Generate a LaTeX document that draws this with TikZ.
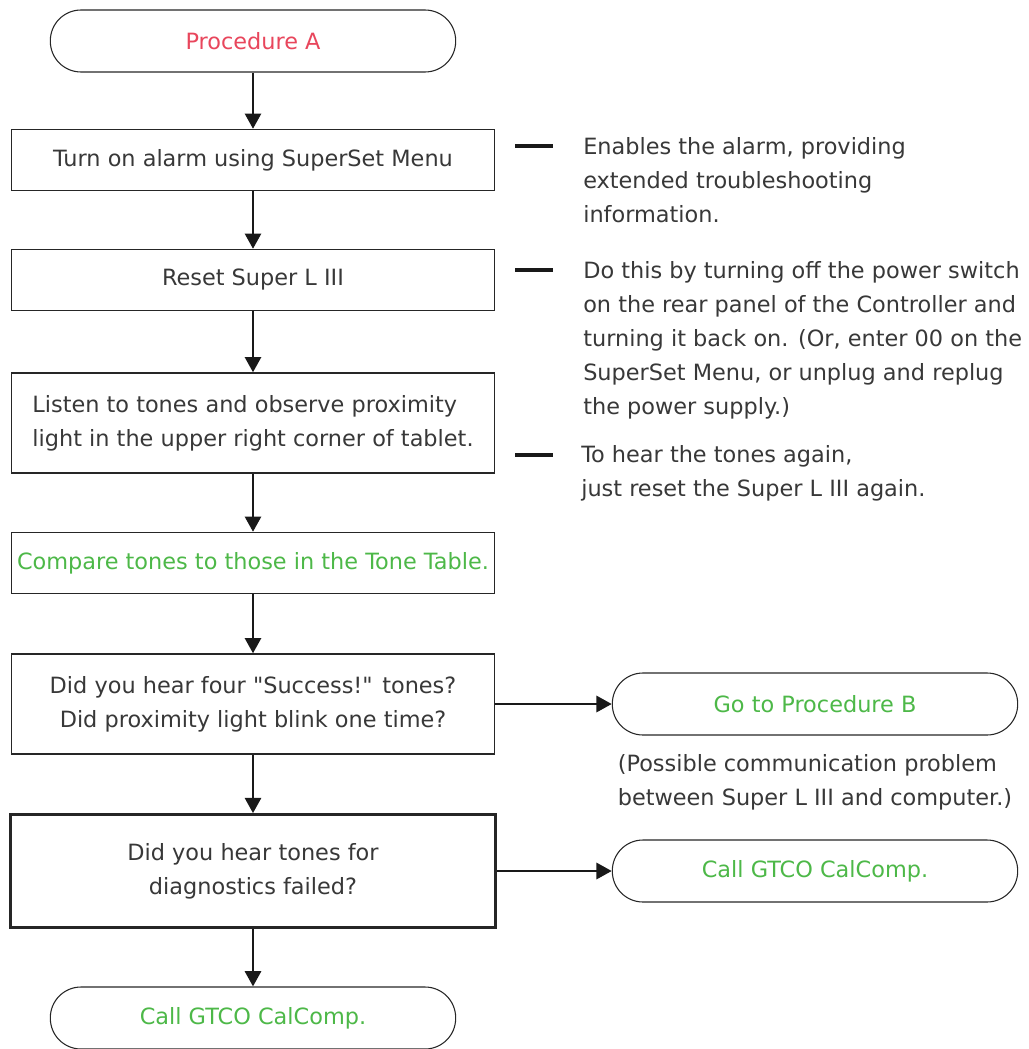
\documentclass[tikz,border=0pt]{standalone}
\usepackage{fontspec}
\setmainfont{DejaVu Sans}
\usetikzlibrary{positioning,arrows.meta}
\definecolor{procred}{HTML}{E8465C}
\definecolor{procgreen}{HTML}{4DB848}
\definecolor{inkgray}{HTML}{383838}
\begin{document}
\begin{tikzpicture}[x=0.75pt,y=-0.75pt,
    font=\fontsize{16.8}{25.5}\selectfont, text=inkgray,
    stepbox/.style={draw=black!85, line width=1pt, minimum width=362pt,
        minimum height=45.75pt, inner sep=2pt, align=center},
    termbox/.style={draw=black!85, line width=0.8pt, minimum width=304pt,
        minimum height=46.5pt, rounded corners=23pt, align=center},
    flow/.style={-{Triangle[length=11.5pt,width=12pt]}, line width=2.2pt, black!90},
    sidedash/.style={line width=3pt, black!90},
    note/.style={anchor=north west, align=left, inner sep=0pt}]
            \useasboundingbox (0,0) rectangle (1028,1049);
            \def\cx{253}

            % main column
            \node [termbox, text=procred] (procA) at (\cx,41) {Procedure A};
            \node [stepbox] (alarm) at (\cx,160) {Turn on alarm using SuperSet Menu};
            \node [stepbox] (reset) at (\cx,280) {Reset Super L III};
            \node [stepbox, minimum height=75pt, align=left] (listen) at (\cx,423)
                {Listen to tones and observe proximity\\light in the upper right corner of tablet.};
            \node [stepbox, text=procgreen] (compare) at (\cx,563) {Compare tones to those in the Tone Table.};
            \node [stepbox, minimum height=75pt] (success) at (\cx,704)
                {Did you hear four \textquotedbl Success!\textquotedbl{} tones?\\Did proximity light blink one time?};
            \node [stepbox, minimum height=84.75pt, line width=2pt, minimum width=364pt] (failed) at (\cx,871)
                {Did you hear tones for\\diagnostics failed?};
            \node [termbox, text=procgreen] (callA) at (\cx,1018) {Call GTCO CalComp.};

            % right branch
            \node [termbox, text=procgreen] (procB) at (815,704) {Go to Procedure B};
            \node [termbox, text=procgreen] (callB) at (815,871) {Call GTCO CalComp.};
            \node [note, anchor=north] (comm) at (815,754)
                {(Possible communication problem\\between Super L III and computer.)};

            \draw [flow] (procA) -- (alarm);
            \draw [flow] (alarm) -- (reset);
            \draw [flow] (reset) -- (listen);
            \draw [flow] (listen) -- (compare);
            \draw [flow] (compare) -- (success);
            \draw [flow] (success) -- (failed);
            \draw [flow] (failed) -- (callA);
            \draw [flow] (success) -- (procB);
            \draw [flow] (failed) -- (callB);

            % side notes
            \draw [sidedash] (515,146) -- (553,146);
            \draw [sidedash] (515,270) -- (553,270);
            \draw [sidedash] (515,455) -- (553,455);
            \node [note] (noteA) at (583,137)
                {Enables the alarm, providing\\extended troubleshooting\\information.};
            \node [note] (noteB) at (583,261)
                {Do this by turning off the power switch\\on the rear panel of the Controller and\\turning it back on. (Or, enter 00 on the\\SuperSet Menu, or unplug and replug\\the power supply.)};
            \node [note] (noteC) at (581,445)
                {To hear the tones again,\\just reset the Super L III again.};
        \end{tikzpicture}
\end{document}
